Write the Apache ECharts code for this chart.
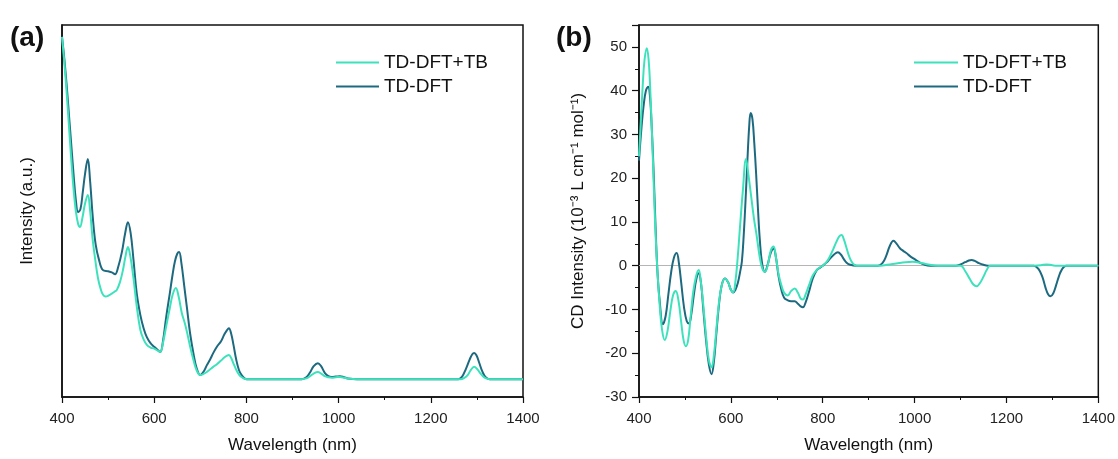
<!DOCTYPE html>
<html>
<head>
<meta charset="utf-8">
<script src="https://cdn.jsdelivr.net/npm/echarts@6/dist/echarts.min.js"></script>
<style>
html,body{margin:0;padding:0;background:#fff;}
#c{width:1118px;height:459px;}
</style>
</head>
<body>
<div id="c"></div>
<script>
// ---- Data ----
const seriesNames = ['TD-DFT+TB', 'TD-DFT'];
const xTicksA = [400, 600, 800, 1000, 1200, 1400];
const yTicksB = [-30, -20, -10, 0, 10, 20, 30, 40, 50];

// Panel (a): absorption intensity (a.u.), [wavelength nm, intensity]
const absTB = [
  [400,96.8],[405,90],[410,82],[415,73],[420,64],[425,56],[430,50],[435,46.5],[439,45.7],[444,48],
  [450,52],[456,54.3],[461,50],[466,43],[472,37],[478,32],[484,29],[489,27.5],[495,27],[500,27.2],
  [508,27.8],[514,28.3],[519,28.8],[526,31],[532,34],[538,38],[543,40.3],[548,38],[555,32],
  [562,24.5],[570,18],[577,15.5],[584,14],[592,13.3],[600,13],[607,12.5],[613,12.1],[619,14.5],
  [626,19],[634,24],[640,27.5],[647,29.3],[653,27],[660,22.5],[666,20],[671,17.5],[678,13.5],
  [685,10],[692,7.2],[700,5.9],[707,6.2],[715,6.8],[721,7.4],[728,8.1],[736,8.8],[745,9.8],
  [752,10.6],[758,11.1],[762,11.3],[767,10.5],[772,9],[778,7.3],[784,6],[790,5.3],[796,4.9],
  [801,4.8],[920,4.8],[930,5],[938,5.6],[946,6.3],[955,6.7],[962,6.3],[970,5.6],[978,5.3],
  [985,5.2],[994,5.3],[1003,5.4],[1015,5.1],[1040,4.8],[1265,4.8],[1272,5.1],[1280,5.9],
  [1287,7.3],[1294,8.1],[1300,7.6],[1306,6.6],[1313,5.6],[1320,5],[1328,4.8],[1400,4.8]
];
const absDFT = [
  [400,96.8],[405,91],[410,84],[415,76],[420,68],[425,60],[430,53],[435,49.7],[440,50.5],[445,55],
  [450,60],[456,64],[461,58],[467,48],[473,41],[480,37],[489,34.1],[500,33.8],[508,33.5],[515,33],
  [522,35],[530,39],[537,44],[543,47],[549,44],[555,37],[562,28],[570,22],[577,18.5],[584,16.1],
  [592,14.5],[600,13.5],[607,12.7],[613,12.1],[619,15],[626,21.5],[634,28],[640,33],[645,36.5],
  [650,38.5],[654,39],[659,36],[665,30],[671,24],[678,17],[685,11.8],[692,7.8],[700,5.9],
  [707,6.8],[714,8.5],[721,10],[728,11.8],[736,13.5],[745,15],[752,16.8],[758,18],[762,18.5],
  [767,17],[772,14],[778,10],[784,7.2],[790,5.8],[796,5],[801,4.8],[920,4.8],[930,5.3],
  [938,6.6],[946,8.3],[955,9.1],[962,8.3],[970,6.5],[978,5.6],[985,5.4],[994,5.5],[1003,5.6],
  [1012,5.3],[1020,5],[1040,4.8],[1260,4.8],[1268,5.5],[1276,7.5],[1284,10],[1290,11.5],
  [1294,11.8],[1299,11.2],[1305,9.2],[1312,6.8],[1319,5.3],[1328,4.8],[1400,4.8]
];

// Panel (b): CD intensity (10^-3 L cm^-1 mol^-1), [wavelength nm, CD]
const cdTB = [
  [400,25],[404,33],[408,41],[412,47],[417,49.7],[421,47],[425,39],[430,25],[435,10],[440,-1],
  [445,-9],[450,-14.5],[456,-17],[462,-15],[468,-10.5],[474,-6.8],[480,-5.8],[486,-8],[492,-13],
  [497,-17],[502,-18.4],[507,-17],[512,-12],[518,-6],[524,-2.5],[530,-1],[535,-4],[540,-9],
  [546,-16],[552,-21.5],[558,-23.2],[563,-20.5],[568,-15],[574,-8.5],[580,-4.5],[587,-2.9],
  [594,-3.8],[600,-5.5],[605,-6.1],[610,-3.5],[615,2],[620,9],[626,17],[633,24.4],[638,21],
  [644,16],[650,11],[656,7],[662,2.5],[668,-0.5],[674,-1.4],[680,0],[687,3.5],[693,4.4],[698,2],
  [704,-2],[710,-4.5],[716,-6.2],[724,-6.8],[731,-5.8],[739,-5.2],[746,-6.2],[752,-7.5],
  [757,-7.7],[763,-6.5],[770,-4.5],[778,-2.3],[787,-1],[795,-0.3],[800,0],[808,0.8],[815,2],
  [823,3.8],[830,5.5],[836,6.7],[841,7],[846,6],[852,4],[858,2],[865,0.6],[874,0],[920,0],
  [940,0.2],[960,0.5],[980,0.8],[996,0.9],[1015,0.6],[1030,0.3],[1050,0],[1100,0],[1110,-1.2],
  [1120,-3],[1128,-4.3],[1135,-4.7],[1142,-4],[1150,-2.5],[1157,-1],[1165,0],[1260,0],
  [1275,0.1],[1287,0.3],[1300,0.1],[1310,0],[1400,0]
];
const cdDFT = [
  [400,24],[405,31],[410,36.5],[415,40],[420,40.9],[424,38.5],[428,31],[432,21],[436,9],[440,-1],
  [445,-8],[452,-13.4],[458,-11.5],[464,-6.5],[470,-1.5],[476,1.8],[482,2.9],[487,0.5],[492,-4],
  [498,-9.5],[504,-12.7],[509,-13.2],[514,-11],[519,-7],[525,-3],[530,-1.7],[535,-4],[540,-10],
  [546,-17],[552,-22.5],[558,-24.8],[563,-22],[568,-16],[574,-9],[580,-4.5],[587,-2.9],
  [594,-3.8],[600,-5.5],[605,-6.1],[610,-5.5],[615,-4],[620,-1.5],[624,1],[628,7],[632,15],
  [636,24],[640,32],[643,34.9],[647,33.5],[651,28],[655,21],[659,13],[663,6],[668,0.5],
  [674,-1.4],[680,0.2],[687,3],[693,3.9],[698,2],[704,-2.5],[710,-5.5],[716,-7.3],[724,-7.9],
  [731,-8.1],[739,-8.1],[746,-8.7],[752,-9.3],[757,-9.5],[763,-8.3],[770,-6],[778,-3],[787,-1],
  [795,-0.4],[800,0],[808,0.7],[815,1.5],[823,2.4],[833,3.1],[840,2.5],[846,1.5],[852,0.7],
  [860,0.2],[874,0],[920,0],[930,0.6],[938,2.2],[946,4.5],[954,5.7],[961,5],[968,4],[975,3.4],
  [982,2.9],[990,2.2],[1000,1.5],[1010,0.8],[1020,0.3],[1033,0],[1090,0],[1100,0.3],[1110,0.8],
  [1118,1.2],[1124,1.3],[1131,1.1],[1140,0.6],[1150,0.2],[1160,0],[1260,0],[1270,-0.8],
  [1278,-2.5],[1285,-5],[1291,-6.6],[1296,-7],[1302,-6.3],[1308,-4.5],[1314,-2.5],[1320,-1],
  [1330,0],[1400,0]
];

// ---- Chart ----
const FONT = "'Liberation Sans', Arial, sans-serif";
const LIGHT = '#3DE2BC';
const DARK = '#1D6A80';
const chart = echarts.init(document.getElementById('c'), null, {renderer: 'canvas'});

function xAxis(gridIndex) {
  return {
    type: 'value', gridIndex, min: xTicksA[0], max: xTicksA[xTicksA.length - 1], interval: 200,
    name: 'Wavelength (nm)', nameLocation: 'middle', nameGap: 40,
    nameTextStyle: {fontFamily: FONT, fontSize: 17, color: '#111'},
    axisLine: {show: true, onZero: false, lineStyle: {color: '#111', width: 1.5}},
    axisTick: {show: true, inside: false, length: 6, lineStyle: {color: '#111', width: 1.2}},
    minorTick: {show: true, splitNumber: 2, length: 3, lineStyle: {color: '#111', width: 1}},
    axisLabel: {fontFamily: FONT, fontSize: 15, color: '#222', margin: 14, formatter: v => String(v)},
    splitLine: {show: false}
  };
}

const commonLine = {type: 'line', showSymbol: false, symbol: 'none', smooth: 0.4};

const legendBase = {
  orient: 'vertical', top: 53, padding: 0, itemWidth: 43, itemHeight: 2, itemGap: 5,
  icon: 'rect', textStyle: {fontFamily: FONT, fontSize: 19, color: '#111'}, data: seriesNames
};

chart.setOption({
  animation: false,
  backgroundColor: '#fff',
  grid: [
    {left: 62, top: 25, width: 461, height: 372, show: true, borderColor: '#111', borderWidth: 1.5},
    {left: 639, top: 25, width: 460, height: 372, show: true, borderColor: '#111', borderWidth: 1.5}
  ],
  xAxis: [xAxis(0), xAxis(1)],
  yAxis: [
    {
      type: 'value', gridIndex: 0, min: 0, max: 100,
      name: 'Intensity (a.u.)', nameLocation: 'middle', nameGap: 26,
      nameTextStyle: {fontFamily: FONT, fontSize: 17, color: '#111'},
      axisLine: {show: true, lineStyle: {color: '#111', width: 1.5}},
      axisTick: {show: false}, axisLabel: {show: false}, splitLine: {show: false}
    },
    {
      type: 'value', gridIndex: 1, min: yTicksB[0], max: 55, interval: 10,
      name: 'CD Intensity (10\u207B\u00B3 L cm\u207B\u00B9 mol\u207B\u00B9)', nameLocation: 'middle', nameGap: 52,
      nameTextStyle: {fontFamily: FONT, fontSize: 17, color: '#111'},
      axisLine: {show: true, onZero: false, lineStyle: {color: '#111', width: 1.5}},
      axisTick: {show: true, inside: false, length: 7, lineStyle: {color: '#111', width: 1.2}},
      minorTick: {show: true, splitNumber: 2, length: 4, lineStyle: {color: '#111', width: 1}},
      axisLabel: {fontFamily: FONT, fontSize: 15, color: '#222', margin: 12, showMaxLabel: false},
      splitLine: {show: false}
    }
  ],
  legend: [
    Object.assign({}, legendBase, {left: 336}),
    Object.assign({}, legendBase, {left: 914, itemWidth: 44})
  ],
  graphic: [
    {type: 'text', left: 10, top: 24, style: {text: '(a)', font: "bold 28px " + FONT, fill: '#111'}},
    {type: 'text', left: 556, top: 24, style: {text: '(b)', font: "bold 28px " + FONT, fill: '#111'}}
  ],
  series: [
    Object.assign({}, commonLine, {name: seriesNames[0], xAxisIndex: 0, yAxisIndex: 0, data: absTB,
      lineStyle: {color: LIGHT, width: 2}, itemStyle: {color: LIGHT}, z: 3}),
    Object.assign({}, commonLine, {name: seriesNames[1], xAxisIndex: 0, yAxisIndex: 0, data: absDFT,
      lineStyle: {color: DARK, width: 2}, itemStyle: {color: DARK}, z: 2}),
    Object.assign({}, commonLine, {name: seriesNames[0], xAxisIndex: 1, yAxisIndex: 1, data: cdTB,
      lineStyle: {color: LIGHT, width: 2}, itemStyle: {color: LIGHT}, z: 3,
      markLine: {silent: true, symbol: 'none', label: {show: false}, z: 1,
        lineStyle: {color: '#b5b5b5', width: 1.2, type: 'solid'}, data: [{yAxis: 0}]}}),
    Object.assign({}, commonLine, {name: seriesNames[1], xAxisIndex: 1, yAxisIndex: 1, data: cdDFT,
      lineStyle: {color: DARK, width: 2}, itemStyle: {color: DARK}, z: 2})
  ]
});
</script>
</body>
</html>
